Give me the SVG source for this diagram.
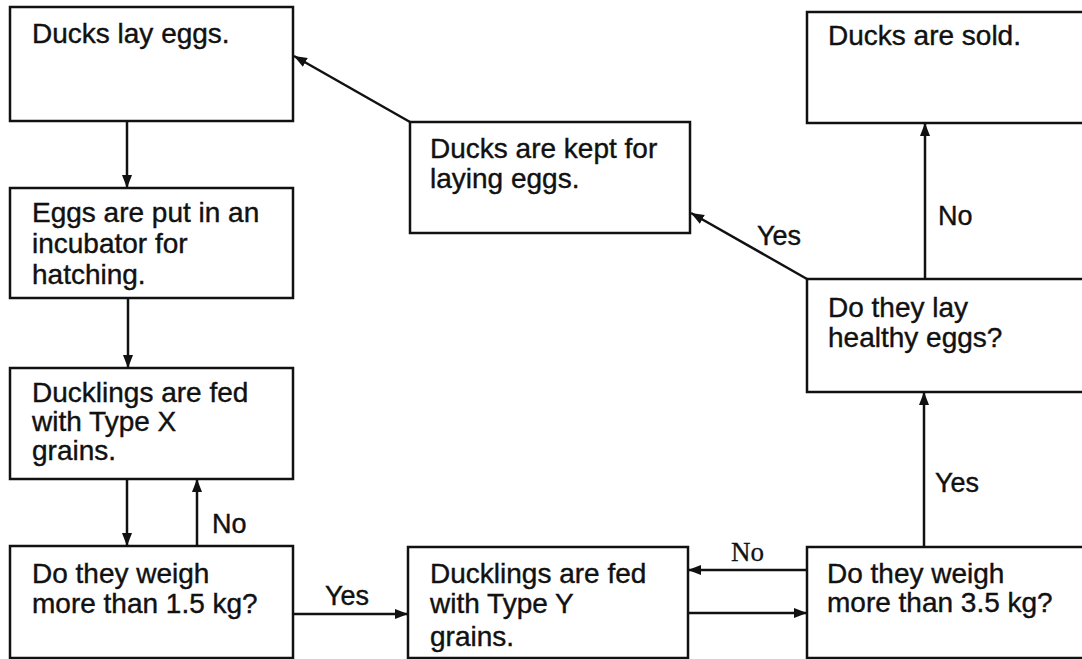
<svg xmlns="http://www.w3.org/2000/svg" width="1082" height="659" viewBox="0 0 1082 659">
<defs>
<marker id="ah" markerWidth="14" markerHeight="12" refX="13" refY="6" orient="auto" markerUnits="userSpaceOnUse">
<path d="M0,1 L13,6 L0,11 z" fill="#111"/>
</marker>
<style>
.box{fill:#fff;stroke:#111;stroke-width:2.5}
.t{font-family:"Liberation Sans",Arial,sans-serif;font-size:28px;fill:#111;stroke:#111;stroke-width:0.4}
.lbl{font-family:"Liberation Sans",Arial,sans-serif;font-size:27px;fill:#111;stroke:#111;stroke-width:0.4}
.lbls{font-family:"Liberation Serif","Times New Roman",serif;font-size:27px;fill:#111;stroke:#111;stroke-width:0.3}
.c{fill:none;stroke:#111;stroke-width:2.5;marker-end:url(#ah)}
</style>
</defs>
<rect width="1082" height="659" fill="#fff"/>
<g id="n-lay">
<rect class="box" x="10" y="7" width="283" height="114"/>
<text class="t" x="32" y="43">Ducks lay eggs.</text>
</g>
<g id="n-incubator">
<rect class="box" x="10" y="188" width="283" height="110"/>
<text class="t" x="32" y="222">Eggs are put in an</text>
<text class="t" x="32" y="253">incubator for</text>
<text class="t" x="32" y="284">hatching.</text>
</g>
<g id="n-typex">
<rect class="box" x="10" y="368" width="283" height="111"/>
<text class="t" x="32" y="402">Ducklings are fed</text>
<text class="t" x="32" y="431">with Type X</text>
<text class="t" x="32" y="460">grains.</text>
</g>
<g id="n-w15">
<rect class="box" x="10" y="546" width="283" height="112"/>
<text class="t" x="32" y="583">Do they weigh</text>
<text class="t" x="32" y="613">more than 1.5 kg?</text>
</g>
<g id="n-kept">
<rect class="box" x="410" y="122" width="280" height="111"/>
<text class="t" x="430" y="158">Ducks are kept for</text>
<text class="t" x="430" y="188">laying eggs.</text>
</g>
<g id="n-sold">
<rect class="box" x="807" y="12" width="290" height="111"/>
<text class="t" x="828" y="45">Ducks are sold.</text>
</g>
<g id="n-healthy">
<rect class="box" x="807" y="279" width="290" height="113"/>
<text class="t" x="828" y="317">Do they lay</text>
<text class="t" x="828" y="347">healthy eggs?</text>
</g>
<g id="n-typey">
<rect class="box" x="408" y="547" width="280" height="111"/>
<text class="t" x="430" y="583">Ducklings are fed</text>
<text class="t" x="430" y="613">with Type Y</text>
<text class="t" x="430" y="646">grains.</text>
</g>
<g id="n-w35">
<rect class="box" x="807" y="547" width="290" height="111"/>
<text class="t" x="827" y="583">Do they weigh</text>
<text class="t" x="827" y="612">more than 3.5 kg?</text>
</g>
<g id="connectors">
<line class="c" x1="127" y1="121" x2="127" y2="188"/>
<line class="c" x1="128" y1="298" x2="128" y2="368"/>
<line class="c" x1="127" y1="479" x2="127" y2="546"/>
<line class="c" x1="197" y1="546" x2="197" y2="479"/>
<text class="lbl" x="212" y="533">No</text>
<line class="c" x1="293" y1="614" x2="408" y2="614"/>
<text class="lbl" x="325" y="605">Yes</text>
<line class="c" x1="688" y1="613" x2="807" y2="613"/>
<line class="c" x1="807" y1="570" x2="688" y2="570"/>
<text class="lbls" x="731" y="561">No</text>
<line class="c" x1="924" y1="547" x2="924" y2="392"/>
<text class="lbl" x="935" y="492">Yes</text>
<line class="c" x1="925" y1="279" x2="925" y2="123"/>
<text class="lbl" x="938" y="225">No</text>
<line class="c" x1="807" y1="279" x2="691" y2="213"/>
<text class="lbl" x="757" y="245">Yes</text>
<line class="c" x1="410" y1="122" x2="294" y2="56"/>
</g>
</svg>
